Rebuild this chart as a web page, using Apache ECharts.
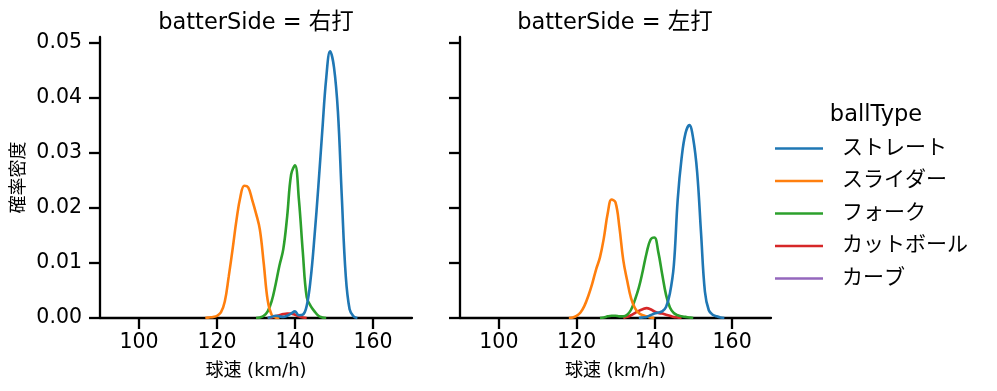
<!DOCTYPE html>
<html>
<head>
<meta charset="utf-8">
<script src="https://cdn.jsdelivr.net/npm/echarts@6/dist/echarts.min.js"></script>
<style>html,body{margin:0;padding:0;background:#fff}#c{width:997px;height:391px}</style>
</head>
<body>
<div id="c"></div>
<script>
const panels = ['batterSide = 右打', 'batterSide = 左打'];
const ballTypes = ['ストレート', 'スライダー', 'フォーク', 'カットボール', 'カーブ'];
const colors = ['#1f77b4', '#ff7f0e', '#2ca02c', '#d62728', '#9467bd'];
const xTicks = [100, 120, 140, 160];
const yTicks = [0, 0.01, 0.02, 0.03, 0.04, 0.05];

// 右打 panel: [km/h, density]
const rStraight = [[133,0],[134,0.0002],[135,0.0004],[136,0.0003],[137,0.0002],[138,0.0004],[139,0.0008],[140,0.0012],[141,0.0005],[142,0.0006],[143,0.0022],[144,0.0070],[145,0.0148],[146,0.0240],[147,0.0340],[148,0.0435],[149,0.0484],[150,0.0455],[151,0.0375],[152,0.0220],[153,0.0078],[154,0.0016],[155,0.0003],[156,0]];
const rSlider = [[117,0],[118,0.0001],[119,0.0002],[120,0.0004],[121,0.0010],[122,0.0030],[123,0.0075],[124,0.0125],[125,0.0178],[126,0.0220],[127,0.0240],[128,0.0237],[129,0.0215],[130,0.0190],[131,0.0160],[132,0.0098],[133,0.0032],[134,0.0006],[135,0.0001],[136,0]];
const rFork = [[130,0],[131,0.0001],[132,0.0004],[133,0.0012],[134,0.0030],[135,0.0060],[136,0.0095],[137,0.0125],[138,0.0185],[139,0.0260],[140,0.0277],[141,0.0215],[142,0.0120],[143,0.0038],[144,0.0022],[145,0.0012],[146,0.0004],[147,0.0001],[148,0]];
const rCutter = [[133,0],[134,0.0001],[135,0.0003],[136,0.0005],[137,0.0007],[138,0.0008],[139,0.0008],[140,0.0006],[141,0.0003],[142,0.0001],[143,0]];
const rCurve = [];

// 左打 panel
const lStraight = [[136,0],[137,0.0001],[138,0.0002],[139,0.0005],[140,0.0008],[141,0.0010],[142,0.0012],[143,0.0020],[144,0.0045],[145,0.0095],[146,0.0215],[147,0.0290],[148,0.0335],[149,0.0350],[150,0.0325],[151,0.0265],[152,0.0155],[153,0.0048],[154,0.0014],[155,0.0006],[156,0.0003],[157,0.0001],[158,0]];
const lSlider = [[118,0],[119,0.0001],[120,0.0004],[121,0.0010],[122,0.0022],[123,0.0040],[124,0.0062],[125,0.0088],[126,0.0110],[127,0.0145],[128,0.0190],[129,0.0215],[130,0.0210],[131,0.0165],[132,0.0105],[133,0.0068],[134,0.0036],[135,0.0018],[136,0.0009],[137,0.0005],[138,0.0003],[139,0.0001],[140,0]];
const lFork = [[126,0],[127,0.0001],[128,0.0003],[129,0.0004],[130,0.0004],[131,0.0003],[132,0.0003],[133,0.0006],[134,0.0015],[135,0.0033],[136,0.0055],[137,0.0085],[138,0.0118],[139,0.0142],[140,0.0146],[141,0.0120],[142,0.0080],[143,0.0042],[144,0.0019],[145,0.0009],[146,0.0005],[147,0.0003],[148,0.0002],[149,0.0001],[150,0]];
const lCutter = [[132,0],[133,0.0002],[134,0.0005],[135,0.0009],[136,0.0013],[137,0.0016],[138,0.0018],[139,0.0016],[140,0.0012],[141,0.0009],[142,0.0008],[143,0.0006],[144,0.0004],[145,0.0002],[146,0.0001],[147,0]];
const lCurve = [];

const panelData = [
  [rStraight, rSlider, rFork, rCutter, rCurve],
  [lStraight, lSlider, lFork, lCutter, lCurve]
];

const FONT = '"DejaVu Sans", "Noto Sans CJK JP", sans-serif';
const grids = [
  {left: 100, top: 37, width: 312, height: 281},
  {left: 460, top: 37, width: 311, height: 281}
];

const axisLineStyle = {lineStyle: {color: '#000', width: 2.3}};
const tickStyle = {color: '#000', width: 2.3};
const xAxes = grids.map((g, i) => ({
  type: 'value', gridIndex: i, min: 90, max: 170,
  axisLine: {show: true, onZero: false, ...axisLineStyle},
  axisTick: {show: true, length: 11, lineStyle: tickStyle, customValues: xTicks},
  axisLabel: {fontSize: 20.5, color: '#000', fontFamily: FONT, margin: 14, customValues: xTicks},
  splitLine: {show: false},
  name: '球速 (km/h)', nameLocation: 'middle', nameGap: 44,
  nameTextStyle: {fontSize: 18, color: '#000', fontFamily: FONT}
}));
const yAxes = grids.map((g, i) => ({
  type: 'value', gridIndex: i, min: 0, max: 0.051,
  axisLine: {show: true, ...axisLineStyle},
  axisTick: {show: true, length: 11, lineStyle: tickStyle, customValues: yTicks},
  axisLabel: {show: i === 0, fontSize: 20.5, color: '#000', fontFamily: FONT, margin: 18,
    customValues: yTicks, formatter: v => v.toFixed(2)},
  splitLine: {show: false},
  name: i === 0 ? '確率密度' : '', nameLocation: 'middle', nameGap: 72, nameRotate: 90,
  nameTextStyle: {fontSize: 18, color: '#000', fontFamily: FONT}
}));

const series = [];
panelData.forEach((arrs, p) => {
  arrs.forEach((d, k) => {
    series.push({
      type: 'line', name: ballTypes[k], xAxisIndex: p, yAxisIndex: p,
      data: d, showSymbol: false, smooth: 0.4, silent: true,
      lineStyle: {color: colors[k], width: 2.6}, itemStyle: {color: colors[k]},
      z: 10 - k
    });
  });
});

const titleStyle = {fontSize: 22.5, fontWeight: 'normal', color: '#000', fontFamily: FONT};
const chart = echarts.init(document.getElementById('c'), null, {renderer: 'canvas'});
chart.setOption({
  animation: false,
  backgroundColor: '#fff',
  color: colors,
  title: [
    {text: panels[0], left: 256, top: 12, padding: 0, textAlign: 'center', textStyle: titleStyle},
    {text: panels[1], left: 615, top: 12, padding: 0, textAlign: 'center', textStyle: titleStyle},
    {text: 'ballType', left: 876, top: 104, padding: 0, textAlign: 'center', textStyle: titleStyle}
  ],
  legend: {
    orient: 'vertical', left: 775, top: 137, padding: 0, data: ballTypes,
    icon: 'rect', itemWidth: 48, itemHeight: 2.7, itemGap: 9.5,
    textStyle: {fontSize: 21, color: '#000', fontFamily: FONT, lineHeight: 23, padding: [0, 0, 0, 14]},
    selectedMode: false
  },
  grid: grids,
  xAxis: xAxes,
  yAxis: yAxes,
  series: series
});
</script>
</body>
</html>
